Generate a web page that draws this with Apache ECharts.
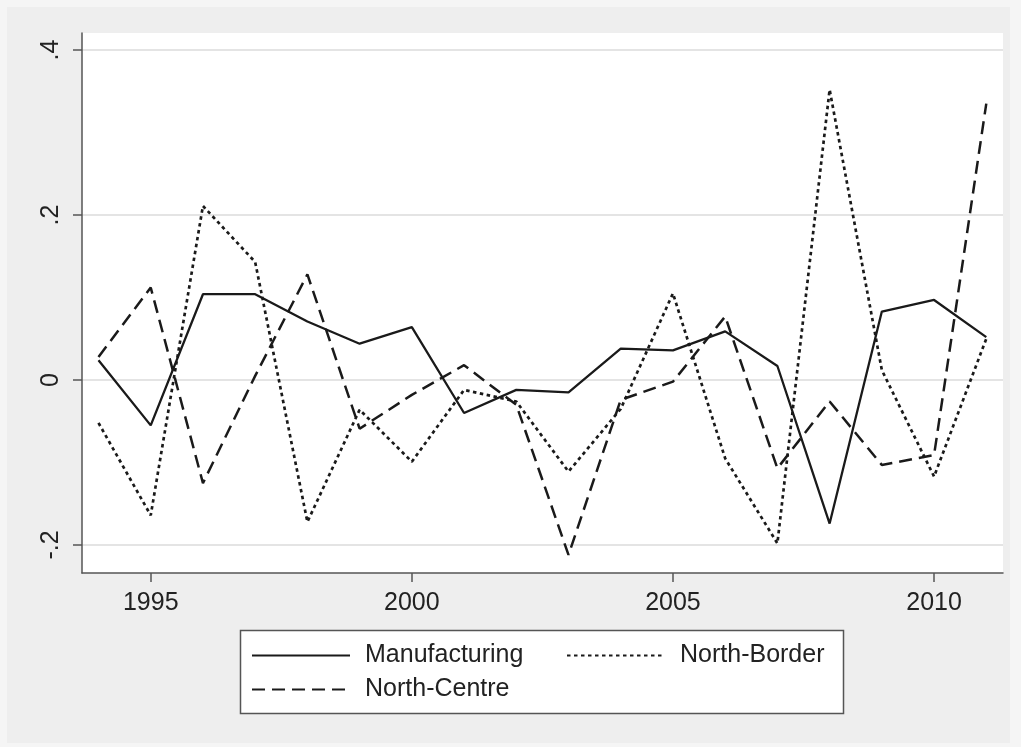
<!DOCTYPE html>
<html>
<head>
<meta charset="utf-8">
<style>
  html, body { margin: 0; padding: 0; background: #f5f5f5; }
  #chart { width: 1021px; height: 747px; }
</style>
<script src="https://cdn.jsdelivr.net/npm/echarts@6/dist/echarts.min.js"></script>
</head>
<body>
<div id="chart"></div>
<script>
// Annual growth series, 1994-2011
const years = [1994, 1995, 1996, 1997, 1998, 1999, 2000, 2001, 2002, 2003, 2004, 2005, 2006, 2007, 2008, 2009, 2010, 2011];
const manufacturing = [0.024, -0.055, 0.104, 0.104, 0.071, 0.044, 0.064, -0.040, -0.012, -0.015, 0.038, 0.036, 0.059, 0.017, -0.174, 0.083, 0.097, 0.052];
const northBorder = [-0.052, -0.164, 0.211, 0.143, -0.172, -0.036, -0.099, -0.012, -0.026, -0.111, -0.035, 0.105, -0.095, -0.198, 0.352, 0.012, -0.117, 0.050];
const northCentre = [0.028, 0.112, -0.125, 0.005, 0.128, -0.059, -0.018, 0.018, -0.030, -0.212, -0.024, -0.002, 0.077, -0.107, -0.026, -0.103, -0.091, 0.335];

const xTicks = [1995, 2000, 2005, 2010];
const yTicks = [-0.2, 0, 0.2, 0.4];
const yTickLabels = ['-.2', '0', '.2', '.4'];

const FONT = '"Liberation Sans", Arial, sans-serif';
const INK = '#1a1a1a';

function pairs(values) {
  return years.map((y, i) => [y, values[i]]);
}

const chart = echarts.init(document.getElementById('chart'), null, { renderer: 'canvas' });

const legendText = { fontFamily: FONT, fontSize: 25, color: '#222', padding: [0, 0, 0, 10] };
function legendAt(name, left, top) {
  return {
    data: [name], left: left, top: top, orient: 'horizontal',
    itemWidth: 98, itemHeight: 14, padding: 0, selectedMode: false,
    itemStyle: { opacity: 0 },
    textStyle: legendText
  };
}

chart.setOption({
  backgroundColor: '#f5f5f5',
  animation: false,
  graphic: [
    { type: 'rect', z: -100, shape: { x: 7, y: 7, width: 1003, height: 736 }, style: { fill: '#eeeeee' }, silent: true },
    { type: 'rect', z: 1, shape: { x: 240.5, y: 630.5, width: 603, height: 83 }, style: { fill: '#ffffff', stroke: '#555555', lineWidth: 1.5 }, silent: true }
  ],
  grid: {
    left: 82, top: 33, right: 18, bottom: 174,
    show: true, backgroundColor: '#ffffff', borderWidth: 0
  },
  legend: [
    legendAt('Manufacturing', 251, 643),
    legendAt('North-Border', 566, 643),
    legendAt('North-Centre', 251, 677)
  ],
  xAxis: {
    type: 'value', min: 1993.684, max: 2011.32,
    axisLine: { show: true, onZero: false, lineStyle: { color: '#555555', width: 1.5 } },
    axisTick: { show: true, length: 9, customValues: xTicks, lineStyle: { color: '#555555', width: 1.5 } },
    axisLabel: { customValues: xTicks, fontFamily: FONT, fontSize: 25, color: '#222', margin: 18, formatter: v => String(v) },
    splitLine: { show: false }
  },
  yAxis: {
    type: 'value', min: -0.2339, max: 0.4206,
    axisLine: { show: true, onZero: false, lineStyle: { color: '#555555', width: 1.5 } },
    axisTick: { show: true, length: 9, customValues: yTicks, lineStyle: { color: '#555555', width: 1.5 } },
    axisLabel: {
      customValues: yTicks, rotate: 90, fontFamily: FONT, fontSize: 25, color: '#222', margin: 18,
      formatter: v => yTickLabels[yTicks.findIndex(t => Math.abs(t - v) < 1e-6)] ?? ''
    },
    splitLine: { show: true, lineStyle: { color: '#e4e4e4', width: 2 } }
  },
  series: [
    {
      name: 'Manufacturing', type: 'line', data: pairs(manufacturing),
      symbol: 'none', lineStyle: { color: INK, width: 2.3, type: 'solid' }, itemStyle: { color: INK }
    },
    {
      name: 'North-Border', type: 'line', data: pairs(northBorder),
      symbol: 'none', lineStyle: { color: INK, width: 2.7, type: [3.5, 3.5] }, itemStyle: { color: INK }
    },
    {
      name: 'North-Centre', type: 'line', data: pairs(northCentre),
      symbol: 'none', lineStyle: { color: INK, width: 2.5, type: [13, 7] }, itemStyle: { color: INK }
    }
  ]
});
</script>
</body>
</html>
